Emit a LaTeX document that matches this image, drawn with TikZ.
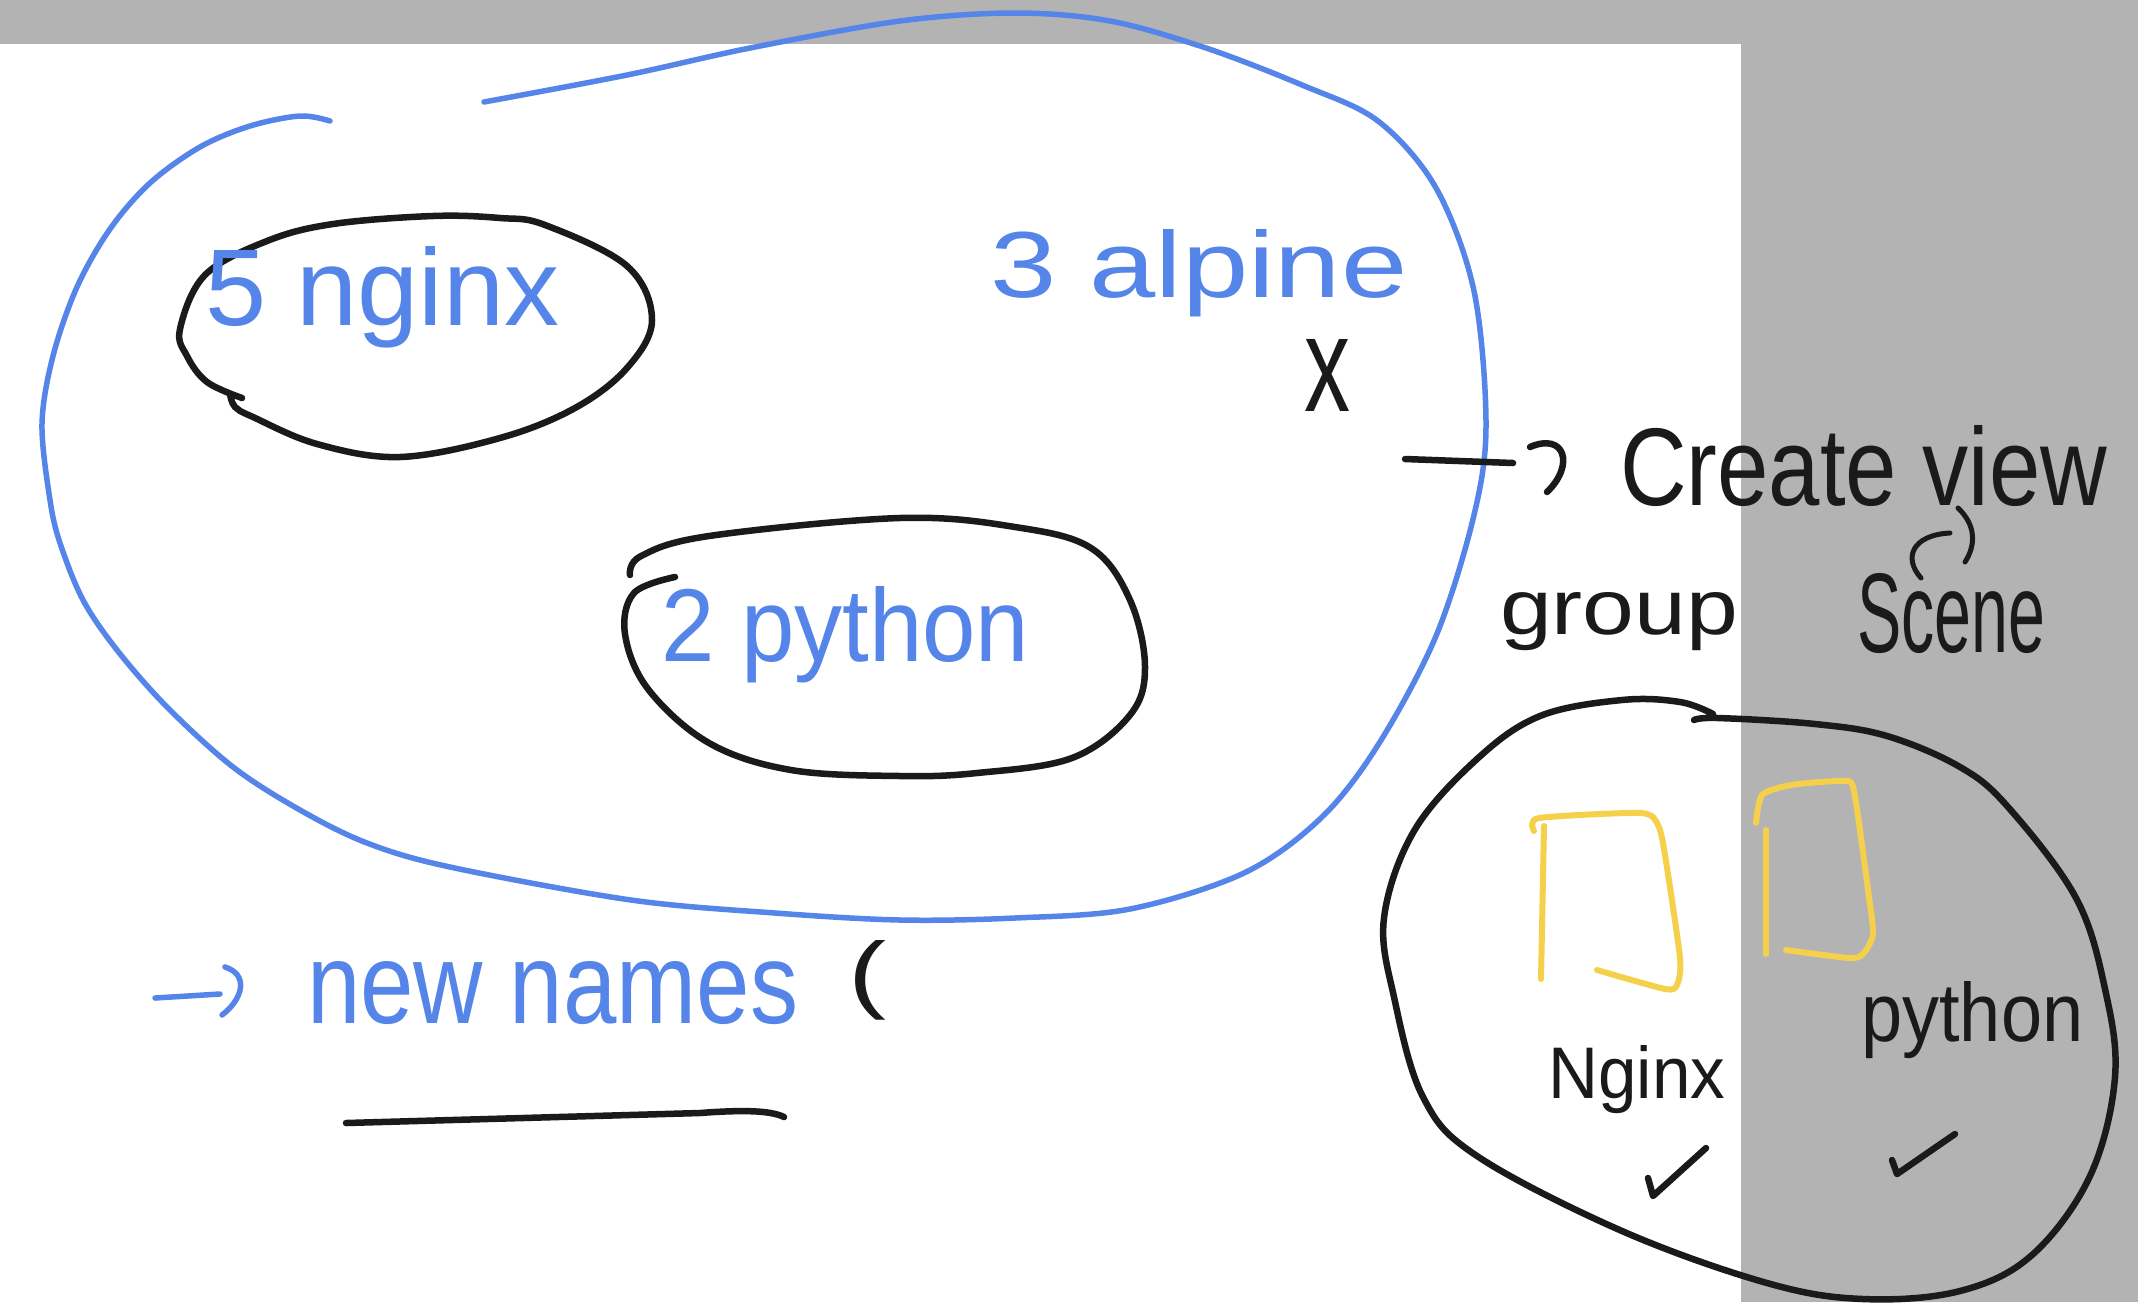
\documentclass[tikz,border=0pt]{standalone}
\usepackage{fontspec}
\setmainfont{Liberation Sans}
\usepackage{graphicx}
\definecolor{penblue}{HTML}{5585E8}
\definecolor{penblack}{HTML}{1A1A1A}
\definecolor{penyellow}{HTML}{F5D04A}
\definecolor{bggray}{HTML}{B3B3B3}
\newcommand{\hw}[3]{\resizebox{#1pt}{#2pt}{#3}}
\begin{document}
\begin{tikzpicture}[x=1pt,y=-1pt,
  blueline/.style={draw=penblue,line width=5.5pt,line cap=round,line join=round},
  blackline/.style={draw=penblack,line width=6.5pt,line cap=round,line join=round},
  yellowline/.style={draw=penyellow,line width=6pt,line cap=round,line join=round},
  bluetext/.style={text=penblue,inner sep=0pt,anchor=base west},
  blacktext/.style={text=penblack,inner sep=0pt,anchor=base west}]
\useasboundingbox (0,0) rectangle (2138,1302);
\fill[bggray] (0,0) rectangle (2138,1302);
\fill[white] (0,44) rectangle (1741,1302);

% big blue loop
\draw[blueline] plot[smooth,tension=0.55] coordinates {(330,121) (300,116) (250,126) (200,147) (150,183) (110,229) (77,287) (53,356) (42,424) (50,500) (60,543) (83,600) (117,650) (167,707) (233,767) (300,810) (367,843) (450,867) (631,900) (775,913) (900,920) (1015,918) (1130,909) (1244,873) (1321,818) (1378,745) (1436,636) (1474,515) (1486,424) (1474,291) (1436,188) (1378,121) (1302,85) (1206,48) (1110,21) (1015,13) (900,21) (750,48) (627,75) (484,102)};

% nginx ellipse
\draw[blackline] plot[smooth,tension=0.6] coordinates {(230,394) (235,407) (253,417) (317,444) (400,457) (500,438) (575,408) (627,368) (652,320) (627,266) (545,225) (500,218) (433,216) (333,224) (267,241) (205,275) (180,329) (187,356) (207,382) (242,398)};

% python ellipse
\draw[blackline] plot[smooth,tension=0.6] coordinates {(630,575) (641,556) (709,536) (900,518) (1015,527) (1091,548) (1130,600) (1145,667) (1130,715) (1072,758) (977,773) (900,776) (791,770) (709,743) (648,689) (625,634) (634,593) (675,577)};

% group circle
\draw[blackline] plot[smooth,tension=0.6] coordinates {(1694,720) (1718,718) (1815,724) (1887,736) (1960,767) (2008,807) (2076,898) (2105,989) (2115,1077) (2090,1176) (2032,1255) (1960,1291) (1863,1299) (1767,1283) (1622,1231) (1477,1156) (1423,1097) (1394,997) (1384,918) (1414,831) (1477,759) (1540,716) (1622,700) (1680,702) (1713,714)};

% yellow boxes
\draw[yellowline] plot[smooth,tension=0.4] coordinates {(1534,831) (1539,818) (1641,813) (1658,825) (1665,855) (1680,958) (1677,985) (1665,989) (1597,970)};
\draw[yellowline] (1544,826) -- (1541,979);
\draw[yellowline] plot[smooth,tension=0.4] coordinates {(1756,823) (1762,795) (1791,785) (1844,781) (1854,791) (1868,890) (1873,934) (1863,954) (1849,958) (1786,950)};
\draw[yellowline] (1766,830) -- (1766,954);

% texts
\node[bluetext] (nginx) at (205,325) {\hw{354}{79}{5 nginx}};
\node[bluetext] (alpine) at (990,297) {\hw{417}{68}{3 alpine}};
\node[blacktext] (xmark) at (1304,411) {\hw{46}{72}{x}};
\node[bluetext] (python) at (661,661) {\hw{368}{75}{2 python}};
\node[blacktext] (create) at (1620,505) {\hw{487}{80}{Create view}};
\node[blacktext] (group) at (1500,634) {\hw{238}{42}{group}};
\node[blacktext] (scene) at (1857,652) {\hw{188}{79}{Scene}};
\node[bluetext] (newnames) at (307,1023) {\hw{491}{62}{new names}};
\node[blacktext] (paren) at (848,1002) {\hw{38}{62}{(}};
\node[blacktext] (nginxc) at (1548,1098) {\hw{177}{53}{Nginx}};
\node[blacktext] (pythonc) at (1861,1041) {\hw{222}{60}{python}};

% arrow to Create view
\coordinate (cvstart) at (1405,459);
\coordinate (cvend) at (1513,463);
\draw[blackline] (cvstart) -- (cvend);
\draw[blackline] (1530,447) .. controls (1565,432) and (1575,465) .. (1547,492);

% curved arrow to Scene
\draw[blackline,line width=5pt] (1921,578) .. controls (1903,558) and (1912,535) .. (1950,533);
\draw[blackline,line width=5pt] (1958,508) .. controls (1976,525) and (1976,545) .. (1965,562);

% arrow to new names
\coordinate (nnstart) at (155,998);
\coordinate (nnend) at (220,994);
\draw[blueline] (nnstart) -- (nnend);
\draw[blueline] (225,967) .. controls (250,975) and (242,1000) .. (222,1015);

% underline
\draw[blackline] (346,1123) -- (700,1113) .. controls (740,1110) and (770,1110) .. (784,1117);

% checkmarks
\draw[blackline] (1648,1178) -- (1653,1196) -- (1706,1148);
\draw[blackline] (1892,1160) -- (1897,1174) -- (1955,1134);
\end{tikzpicture}
\end{document}
